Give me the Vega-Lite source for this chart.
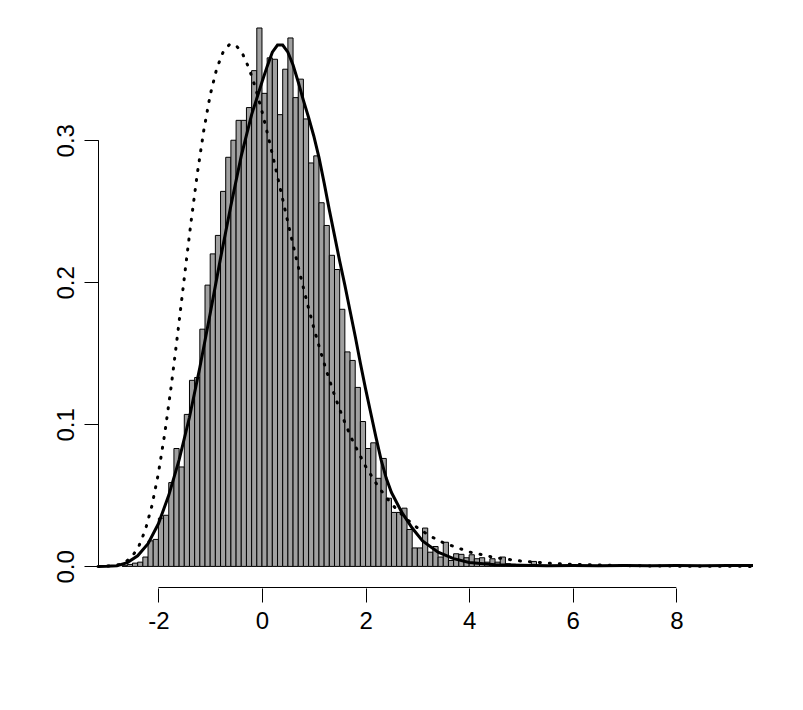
{
  "$schema": "https://vega.github.io/schema/vega-lite/v6.json",
  "autosize": {"type": "none"},
  "width": 655,
  "height": 583,
  "padding": {"left": 98, "top": 5, "right": 50, "bottom": 122},
  "background": "white",
  "config": {
    "view": {"stroke": null},
    "font": "Liberation Sans",
    "axis": {"grid": false, "domain": false, "tickColor": "black", "tickWidth": 1, "tickSize": 14, "labelColor": "black", "labelFont": "Liberation Sans", "labelFontSize": 24, "labelOverlap": false, "labelFlush": false}
  },
  "datasets": {
    "hist": [
      {"start": -2.7, "end": -2.6, "density": 0.0005},
      {"start": -2.6, "end": -2.5, "density": 0.0014},
      {"start": -2.5, "end": -2.4, "density": 0.0023},
      {"start": -2.4, "end": -2.3, "density": 0.003},
      {"start": -2.3, "end": -2.2, "density": 0.0066},
      {"start": -2.2, "end": -2.1, "density": 0.018},
      {"start": -2.1, "end": -2.0, "density": 0.019},
      {"start": -2.0, "end": -1.9, "density": 0.034},
      {"start": -1.9, "end": -1.8, "density": 0.036},
      {"start": -1.8, "end": -1.7, "density": 0.059},
      {"start": -1.7, "end": -1.6, "density": 0.083},
      {"start": -1.6, "end": -1.5, "density": 0.070},
      {"start": -1.5, "end": -1.4, "density": 0.107},
      {"start": -1.4, "end": -1.3, "density": 0.131},
      {"start": -1.3, "end": -1.2, "density": 0.133},
      {"start": -1.2, "end": -1.1, "density": 0.167},
      {"start": -1.1, "end": -1.0, "density": 0.198},
      {"start": -1.0, "end": -0.9, "density": 0.220},
      {"start": -0.9, "end": -0.8, "density": 0.233},
      {"start": -0.8, "end": -0.7, "density": 0.264},
      {"start": -0.7, "end": -0.6, "density": 0.288},
      {"start": -0.6, "end": -0.5, "density": 0.300},
      {"start": -0.5, "end": -0.4, "density": 0.314},
      {"start": -0.4, "end": -0.3, "density": 0.314},
      {"start": -0.3, "end": -0.2, "density": 0.323},
      {"start": -0.2, "end": -0.1, "density": 0.349},
      {"start": -0.1, "end": 0.0, "density": 0.379},
      {"start": 0.0, "end": 0.1, "density": 0.333},
      {"start": 0.1, "end": 0.2, "density": 0.358},
      {"start": 0.2, "end": 0.3, "density": 0.357},
      {"start": 0.3, "end": 0.4, "density": 0.318},
      {"start": 0.4, "end": 0.5, "density": 0.350},
      {"start": 0.5, "end": 0.6, "density": 0.372},
      {"start": 0.6, "end": 0.7, "density": 0.330},
      {"start": 0.7, "end": 0.8, "density": 0.343},
      {"start": 0.8, "end": 0.9, "density": 0.315},
      {"start": 0.9, "end": 1.0, "density": 0.284},
      {"start": 1.0, "end": 1.1, "density": 0.289},
      {"start": 1.1, "end": 1.2, "density": 0.256},
      {"start": 1.2, "end": 1.3, "density": 0.240},
      {"start": 1.3, "end": 1.4, "density": 0.219},
      {"start": 1.4, "end": 1.5, "density": 0.209},
      {"start": 1.5, "end": 1.6, "density": 0.181},
      {"start": 1.6, "end": 1.7, "density": 0.151},
      {"start": 1.7, "end": 1.8, "density": 0.145},
      {"start": 1.8, "end": 1.9, "density": 0.126},
      {"start": 1.9, "end": 2.0, "density": 0.102},
      {"start": 2.0, "end": 2.1, "density": 0.083},
      {"start": 2.1, "end": 2.2, "density": 0.087},
      {"start": 2.2, "end": 2.3, "density": 0.062},
      {"start": 2.3, "end": 2.4, "density": 0.076},
      {"start": 2.4, "end": 2.5, "density": 0.048},
      {"start": 2.5, "end": 2.6, "density": 0.038},
      {"start": 2.6, "end": 2.7, "density": 0.038},
      {"start": 2.7, "end": 2.8, "density": 0.041},
      {"start": 2.8, "end": 2.9, "density": 0.026},
      {"start": 2.9, "end": 3.0, "density": 0.013},
      {"start": 3.0, "end": 3.1, "density": 0.013},
      {"start": 3.1, "end": 3.2, "density": 0.027},
      {"start": 3.2, "end": 3.3, "density": 0.010},
      {"start": 3.3, "end": 3.4, "density": 0.014},
      {"start": 3.4, "end": 3.5, "density": 0.0066},
      {"start": 3.5, "end": 3.6, "density": 0.017},
      {"start": 3.6, "end": 3.7, "density": 0.0042},
      {"start": 3.7, "end": 3.8, "density": 0.0089},
      {"start": 3.8, "end": 3.9, "density": 0.0085},
      {"start": 3.9, "end": 4.0, "density": 0.0061},
      {"start": 4.0, "end": 4.1, "density": 0.0082},
      {"start": 4.1, "end": 4.2, "density": 0.0054},
      {"start": 4.2, "end": 4.3, "density": 0.0061},
      {"start": 4.3, "end": 4.4, "density": 0.003},
      {"start": 4.4, "end": 4.5, "density": 0.0054},
      {"start": 4.5, "end": 4.6, "density": 0.003},
      {"start": 4.6, "end": 4.7, "density": 0.0066},
      {"start": 4.7, "end": 4.8, "density": 0.0019},
      {"start": 4.8, "end": 4.9, "density": 0.0015},
      {"start": 4.9, "end": 5.0, "density": 0.001},
      {"start": 5.0, "end": 5.1, "density": 0.001},
      {"start": 5.1, "end": 5.2, "density": 0.001},
      {"start": 5.2, "end": 5.3, "density": 0.0035},
      {"start": 5.3, "end": 5.4, "density": 0.0008},
      {"start": 5.4, "end": 5.5, "density": 0.0008},
      {"start": 5.5, "end": 5.6, "density": 0.0005},
      {"start": 5.6, "end": 5.7, "density": 0.0005}
    ],
    "solid": [
      {"x": -3.166, "y": 0.0},
      {"x": -3.0, "y": 0.0001},
      {"x": -2.8, "y": 0.0005},
      {"x": -2.6, "y": 0.0027},
      {"x": -2.4, "y": 0.0075},
      {"x": -2.2, "y": 0.016},
      {"x": -2.0, "y": 0.030},
      {"x": -1.8, "y": 0.050},
      {"x": -1.6, "y": 0.075},
      {"x": -1.4, "y": 0.105},
      {"x": -1.2, "y": 0.140},
      {"x": -1.0, "y": 0.178},
      {"x": -0.8, "y": 0.217},
      {"x": -0.6, "y": 0.254},
      {"x": -0.4, "y": 0.289},
      {"x": -0.2, "y": 0.318},
      {"x": 0.0, "y": 0.341},
      {"x": 0.1, "y": 0.352},
      {"x": 0.2, "y": 0.362},
      {"x": 0.3, "y": 0.367},
      {"x": 0.4, "y": 0.367},
      {"x": 0.5, "y": 0.362},
      {"x": 0.6, "y": 0.353},
      {"x": 0.7, "y": 0.341},
      {"x": 0.8, "y": 0.328},
      {"x": 0.9, "y": 0.316},
      {"x": 1.0, "y": 0.303},
      {"x": 1.1, "y": 0.288},
      {"x": 1.2, "y": 0.270},
      {"x": 1.3, "y": 0.251},
      {"x": 1.4, "y": 0.233},
      {"x": 1.5, "y": 0.215},
      {"x": 1.6, "y": 0.198},
      {"x": 1.7, "y": 0.180},
      {"x": 1.8, "y": 0.162},
      {"x": 1.9, "y": 0.143},
      {"x": 2.0, "y": 0.125},
      {"x": 2.1, "y": 0.108},
      {"x": 2.2, "y": 0.091},
      {"x": 2.3, "y": 0.075},
      {"x": 2.4, "y": 0.062},
      {"x": 2.5, "y": 0.052},
      {"x": 2.7, "y": 0.038},
      {"x": 2.9, "y": 0.027},
      {"x": 3.1, "y": 0.018},
      {"x": 3.4, "y": 0.010},
      {"x": 3.7, "y": 0.0055},
      {"x": 4.0, "y": 0.0027},
      {"x": 4.5, "y": 0.0012},
      {"x": 5.0, "y": 0.0008},
      {"x": 5.5, "y": 0.0005},
      {"x": 6.0, "y": 0.0006},
      {"x": 6.5, "y": 0.0004},
      {"x": 7.0, "y": 0.0006},
      {"x": 7.5, "y": 0.0004},
      {"x": 8.0, "y": 0.0006},
      {"x": 8.5, "y": 0.0005},
      {"x": 9.0, "y": 0.0007},
      {"x": 9.48, "y": 0.0007}
    ],
    "dotted": [
      {"x": -3.166, "y": 0.0},
      {"x": -3.0, "y": 0.00014},
      {"x": -2.875, "y": 0.00048},
      {"x": -2.75, "y": 0.00135},
      {"x": -2.625, "y": 0.00334},
      {"x": -2.5, "y": 0.0073},
      {"x": -2.375, "y": 0.0144},
      {"x": -2.25, "y": 0.0259},
      {"x": -2.125, "y": 0.0427},
      {"x": -2.0, "y": 0.0655},
      {"x": -1.875, "y": 0.0940},
      {"x": -1.75, "y": 0.1276},
      {"x": -1.625, "y": 0.1646},
      {"x": -1.5, "y": 0.2031},
      {"x": -1.375, "y": 0.2410},
      {"x": -1.25, "y": 0.2761},
      {"x": -1.125, "y": 0.3067},
      {"x": -1.0, "y": 0.3318},
      {"x": -0.875, "y": 0.3503},
      {"x": -0.75, "y": 0.3621},
      {"x": -0.625, "y": 0.3675},
      {"x": -0.5, "y": 0.3668},
      {"x": -0.375, "y": 0.3609},
      {"x": -0.25, "y": 0.3506},
      {"x": -0.125, "y": 0.3368},
      {"x": 0.0, "y": 0.3203},
      {"x": 0.125, "y": 0.3019},
      {"x": 0.25, "y": 0.2824},
      {"x": 0.375, "y": 0.2624},
      {"x": 0.5, "y": 0.2422},
      {"x": 0.625, "y": 0.2225},
      {"x": 0.75, "y": 0.2034},
      {"x": 0.875, "y": 0.1852},
      {"x": 1.0, "y": 0.1680},
      {"x": 1.125, "y": 0.1520},
      {"x": 1.25, "y": 0.1370},
      {"x": 1.375, "y": 0.1232},
      {"x": 1.5, "y": 0.1105},
      {"x": 1.625, "y": 0.0990},
      {"x": 1.75, "y": 0.0885},
      {"x": 2.0, "y": 0.0704},
      {"x": 2.25, "y": 0.0558},
      {"x": 2.5, "y": 0.0440},
      {"x": 2.75, "y": 0.0346},
      {"x": 3.0, "y": 0.0272},
      {"x": 3.25, "y": 0.0213},
      {"x": 3.5, "y": 0.0167},
      {"x": 4.0, "y": 0.0102},
      {"x": 4.5, "y": 0.0062},
      {"x": 5.0, "y": 0.0038},
      {"x": 5.5, "y": 0.0023},
      {"x": 6.0, "y": 0.0014},
      {"x": 7.0, "y": 0.0005},
      {"x": 8.0, "y": 0.0002},
      {"x": 9.48, "y": 0.0}
    ]
  },
  "layer": [
    {
      "data": {"name": "hist"},
      "mark": {"type": "rect", "fill": "#a0a0a0", "stroke": "black", "strokeWidth": 1},
      "encoding": {
        "x": {"field": "start", "type": "quantitative", "title": null, "scale": {"domain": [-3.166, 9.48], "nice": false, "zero": false},
              "axis": {"values": [-2, 0, 2, 4, 6, 8], "title": null, "labelPadding": 7, "labelExpr": "toString(datum.value)"}},
        "x2": {"field": "end"},
        "y": {"field": "density", "type": "quantitative", "title": null, "scale": {"domain": [-0.0152, 0.3952], "nice": false, "zero": false},
              "axis": {"values": [0, 0.1, 0.2, 0.3], "format": ".1f", "title": null, "labelAngle": -90, "labelAlign": "center", "labelBaseline": "alphabetic", "labelPadding": 11}},
        "y2": {"datum": 0}
      }
    },
    {
      "data": {"name": "dotted"},
      "mark": {"type": "line", "color": "black", "strokeWidth": 3, "strokeDash": [1, 9], "strokeCap": "round"},
      "encoding": {
        "x": {"field": "x", "type": "quantitative", "title": null},
        "y": {"field": "y", "type": "quantitative", "title": null}
      }
    },
    {
      "data": {"name": "solid"},
      "mark": {"type": "line", "color": "black", "strokeWidth": 3},
      "encoding": {
        "x": {"field": "x", "type": "quantitative", "title": null},
        "y": {"field": "y", "type": "quantitative", "title": null}
      }
    },
    {
      "data": {"values": [{}]},
      "mark": {"type": "rule", "color": "black", "strokeWidth": 1},
      "encoding": {
        "x": {"datum": -2},
        "x2": {"datum": 8},
        "y": {"datum": -0.01485}
      }
    },
    {
      "data": {"values": [{}]},
      "mark": {"type": "rule", "color": "black", "strokeWidth": 1},
      "encoding": {
        "x": {"datum": -3.1563},
        "y": {"datum": 0},
        "y2": {"datum": 0.3}
      }
    }
  ]
}
